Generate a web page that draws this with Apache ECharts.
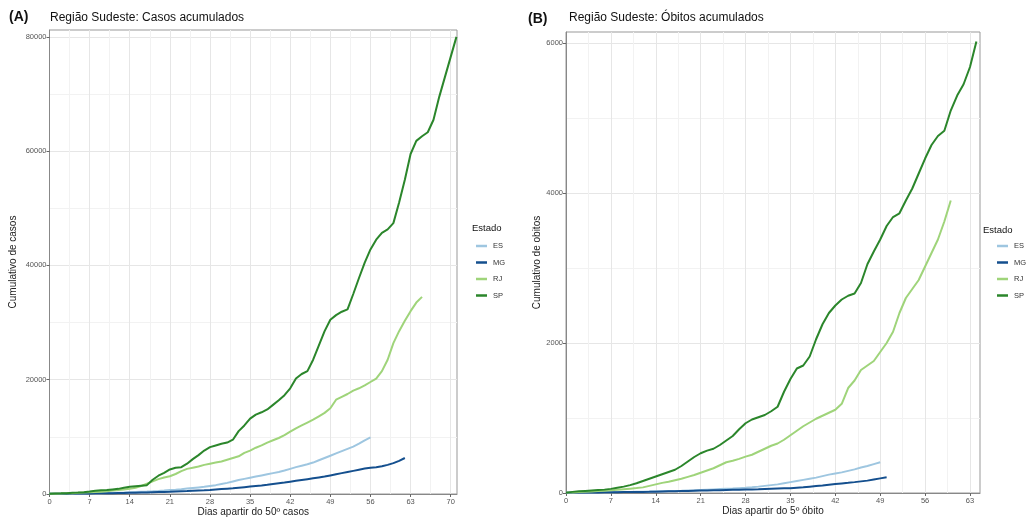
<!DOCTYPE html>
<html>
<head>
<meta charset="utf-8">
<script src="https://cdn.jsdelivr.net/npm/echarts@6/dist/echarts.min.js"></script>
<style>
  html, body { margin: 0; padding: 0; background: #fff; }
  #main { width: 1029px; height: 518px; }
</style>
</head>
<body>
<div id="main"></div>
<script>
// states (legend order)
const estados = ['ES', 'MG', 'RJ', 'SP'];
const cores = ['#9ec6e0', '#144f8e', '#9fd47a', '#2b862b'];

// (A) casos acumulados, one value per day from the 50th case
const casosES = [50,55,60,70,80,90,100,110,130,150,170,200,230,260,300,340,380,420,470,530,600,680,760,850,950,1050,1150,1250,1400,1550,1750,1950,2200,2450,2650,2850,3050,3250,3450,3650,3850,4100,4400,4700,4950,5200,5500,5900,6300,6700,7100,7500,7900,8300,8800,9400,9900];
const casosMG = [50,55,60,65,70,80,90,100,110,120,130,150,170,190,210,230,250,270,300,330,360,390,430,470,510,560,610,660,720,790,860,930,1000,1100,1200,1300,1400,1500,1620,1750,1880,2000,2150,2300,2450,2600,2750,2900,3050,3250,3450,3650,3850,4050,4250,4450,4600,4700,4850,5100,5400,5800,6300];
const casosRJ = [50,60,80,110,150,200,250,300,350,400,500,600,700,800,900,1100,1400,1800,2200,2600,2900,3100,3500,4000,4400,4600,4800,5100,5300,5500,5700,6000,6300,6600,7200,7600,8100,8500,9000,9400,9800,10300,10900,11500,12000,12500,13000,13600,14200,15000,16500,17000,17500,18100,18500,19000,19600,20200,21500,23500,26400,28500,30300,32000,33500,34500];
const casosSP = [50,80,110,150,200,250,320,420,550,650,700,800,900,1100,1250,1350,1450,1550,2500,3200,3700,4300,4600,4700,5300,6100,6800,7600,8200,8500,8800,9000,9500,11000,12000,13200,13900,14300,14800,15600,16400,17300,18500,20200,21000,21500,23500,26000,28500,30500,31300,31900,32300,35000,37800,40500,42800,44500,45700,46300,47400,51000,55000,59500,61800,62600,63300,65500,69500,73000,76500,80000];

// (B) óbitos acumulados, one value per day from the 5th death
const obitosES = [5,5,6,7,8,9,10,11,12,13,14,16,18,20,22,24,26,28,30,33,36,40,44,48,52,56,60,65,70,77,85,95,105,115,130,145,160,175,190,205,225,245,260,275,295,315,340,360,385,410];
const obitosMG = [5,5,6,6,7,8,9,10,11,12,13,14,15,16,18,20,22,24,26,28,30,32,34,36,38,40,42,44,46,48,50,54,58,60,62,64,70,76,84,92,100,110,120,128,136,145,155,165,180,195,210];
const obitosRJ = [5,8,12,16,20,25,30,35,42,50,58,66,75,95,115,135,150,170,190,215,240,270,300,330,370,410,430,455,485,510,550,590,630,660,710,770,830,890,940,990,1030,1070,1110,1190,1400,1500,1640,1700,1760,1880,2000,2150,2400,2600,2720,2840,3020,3200,3380,3620,3900];
const obitosSP = [5,15,22,28,34,40,45,55,70,85,105,130,160,190,220,250,280,310,360,420,480,530,565,590,640,700,760,850,930,980,1010,1040,1090,1150,1350,1520,1660,1700,1820,2050,2250,2400,2500,2580,2630,2660,2800,3050,3220,3380,3560,3680,3730,3900,4060,4260,4460,4640,4760,4830,5100,5300,5450,5680,6020];

// tick labels
const diasTicksA = [0, 7, 14, 21, 28, 35, 42, 49, 56, 63, 70];
const diasTicksB = [0, 7, 14, 21, 28, 35, 42, 49, 56, 63];
const casosTicks = [0, 20000, 40000, 60000, 80000];
const obitosTicks = [0, 2000, 4000, 6000];

const casos = [casosES, casosMG, casosRJ, casosSP];
const obitos = [obitosES, obitosMG, obitosRJ, obitosSP];

function pares(arr) {
  return arr.map((v, i) => [i, v]);
}

const labelCor = '#555';
const fonte = '"Liberation Sans", Arial, sans-serif';
const semSeparador = v => String(v);

function eixoX(idx, max, ticks, nome) {
  return {
    type: 'value', gridIndex: idx, min: 0, max: max, interval: 7,
    name: nome, nameLocation: 'middle', nameGap: 13, nameMoveOverlap: false,
    nameTextStyle: { color: '#222', fontSize: 10, fontFamily: fonte },
    axisLine: { show: true, lineStyle: { color: '#888' } },
    axisTick: { show: true, length: 3, customValues: ticks, lineStyle: { color: '#666' } },
    axisLabel: { color: labelCor, fontSize: 7.5, margin: 4, fontFamily: fonte, customValues: ticks, formatter: semSeparador },
    splitLine: { show: true, lineStyle: { color: '#e6e6e6', width: 1 } },
    minorTick: { show: false, splitNumber: 2 },
    minorSplitLine: { show: true, lineStyle: { color: '#f2f2f2', width: 1 } }
  };
}

function eixoY(idx, max, step, ticks, nome, gap) {
  return {
    type: 'value', gridIndex: idx, min: 0, max: max, interval: step,
    name: nome, nameLocation: 'middle', nameGap: gap, nameRotate: 90, nameMoveOverlap: false,
    nameTextStyle: { color: '#222', fontSize: 10, fontFamily: fonte },
    axisLine: { show: true, lineStyle: { color: '#888' } },
    axisTick: { show: true, length: 3, customValues: ticks, lineStyle: { color: '#666' } },
    axisLabel: { color: labelCor, fontSize: 7.5, margin: 3, fontFamily: fonte, customValues: ticks, formatter: semSeparador },
    splitLine: { show: true, lineStyle: { color: '#e6e6e6', width: 1 } },
    minorTick: { show: false, splitNumber: 2 },
    minorSplitLine: { show: true, lineStyle: { color: '#f2f2f2', width: 1 } }
  };
}

const series = [];
estados.forEach((e, i) => {
  series.push({
    name: e, type: 'line', xAxisIndex: 0, yAxisIndex: 0,
    data: pares(casos[i]), showSymbol: false, symbol: 'none',
    lineStyle: { width: 2, color: cores[i] }, itemStyle: { color: cores[i] },
    z: 2 + i
  });
});
estados.forEach((e, i) => {
  series.push({
    name: e, type: 'line', xAxisIndex: 1, yAxisIndex: 1,
    data: pares(obitos[i]), showSymbol: false, symbol: 'none',
    lineStyle: { width: 2, color: cores[i] }, itemStyle: { color: cores[i] },
    z: 2 + i
  });
});

function legenda(left) {
  return {
    data: estados, orient: 'vertical', left: left, top: 241, padding: 0,
    icon: 'rect', itemWidth: 11, itemHeight: 2.5, itemGap: 6.5,
    selectedMode: false,
    textStyle: { color: '#333', fontSize: 7.5, fontFamily: fonte, lineHeight: 10, padding: [0, 0, 0, 1] }
  };
}

const chart = echarts.init(document.getElementById('main'));
chart.setOption({
  animation: false,
  backgroundColor: '#fff',
  grid: [
    { left: 49.5, top: 30, width: 407.5, height: 464, show: true, borderColor: '#999', borderWidth: 1,
      containLabel: false, outerBoundsMode: 'none' },
    { left: 566, top: 32, width: 414, height: 461, show: true, borderColor: '#999', borderWidth: 1,
      containLabel: false, outerBoundsMode: 'none' }
  ],
  xAxis: [
    eixoX(0, 71.1, diasTicksA, 'Dias apartir do 50º casos'),
    eixoX(1, 64.56, diasTicksB, 'Dias apartir do 5º óbito')
  ],
  yAxis: [
    eixoY(0, 81200, 20000, casosTicks, 'Cumulativo de casos', 31),
    eixoY(1, 6147, 2000, obitosTicks, 'Cumulativo de obitos', 24)
  ],
  legend: [legenda(476), legenda(997)],
  graphic: [
    { type: 'text', left: 9, top: 10, style: { text: '(A)', fontSize: 14, fontWeight: 'bold', fill: '#111', fontFamily: fonte } },
    { type: 'text', left: 50, top: 12, style: { text: 'Região Sudeste: Casos acumulados', fontSize: 12, fill: '#111', fontFamily: fonte } },
    { type: 'text', left: 528, top: 12, style: { text: '(B)', fontSize: 14, fontWeight: 'bold', fill: '#111', fontFamily: fonte } },
    { type: 'text', left: 569, top: 12, style: { text: 'Região Sudeste: Óbitos acumulados', fontSize: 12, fill: '#111', fontFamily: fonte } },
    { type: 'text', left: 472, top: 223, style: { text: 'Estado', fontSize: 9.5, fill: '#111', fontFamily: fonte } },
    { type: 'text', left: 983, top: 225, style: { text: 'Estado', fontSize: 9.5, fill: '#111', fontFamily: fonte } }
  ],
  series: series
});
</script>
</body>
</html>
